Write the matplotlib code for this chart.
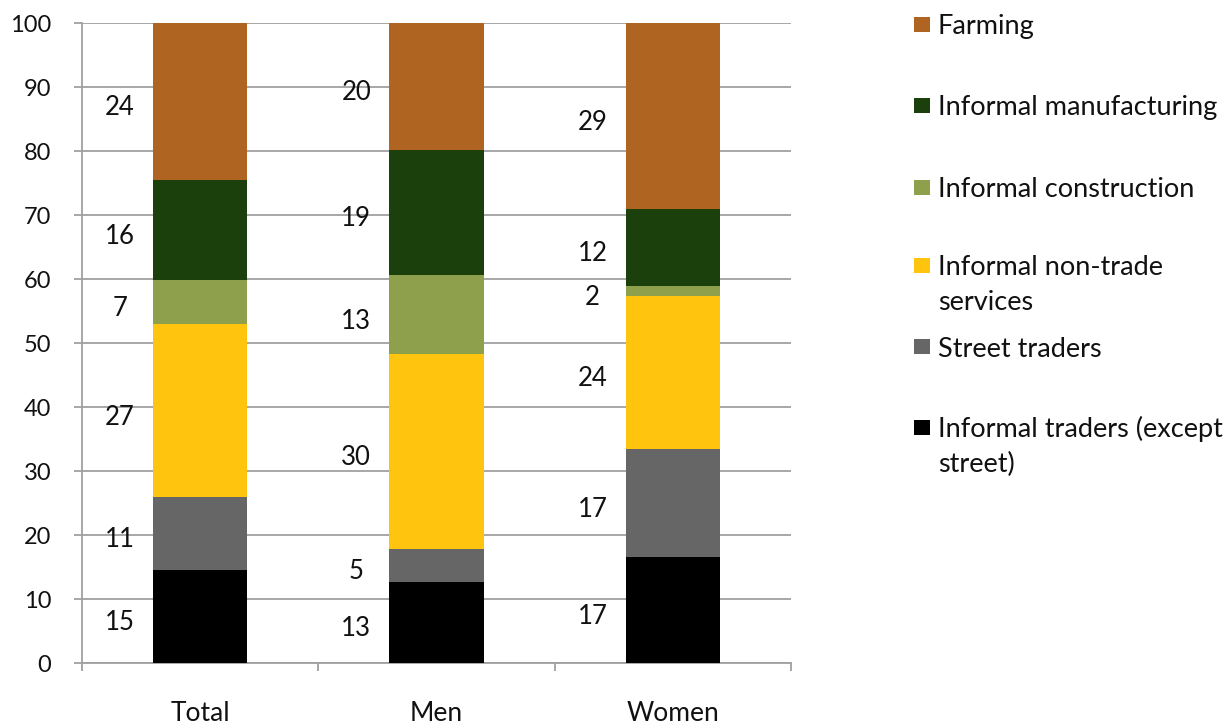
import matplotlib.pyplot as plt
from matplotlib.patches import Rectangle
from matplotlib.transforms import offset_copy

plt.rcParams['font.family'] = ['Lato', 'DejaVu Sans']

groups = ['Total', 'Men', 'Women']

# stacked from the bottom up
series = [
	'Informal traders (except\nstreet)',
	'Street traders',
	'Informal non-trade\nservices',
	'Informal construction',
	'Informal manufacturing',
	'Farming',
]
colors = ['#000000', '#666666', '#FFC40D', '#8EA04C', '#1B400B', '#B06422']

# segment heights
traders = [14.6, 12.7, 16.5]
street = [11.4, 5.1, 17.0]
nontrade = [26.9, 30.5, 23.8]
construction = [6.9, 12.3, 1.6]
manufacturing = [15.7, 19.6, 12.1]
farming = [24.5, 19.8, 29.0]

# printed labels
traders_lbl = [15, 13, 17]
street_lbl = [11, 5, 17]
nontrade_lbl = [27, 30, 24]
construction_lbl = [7, 13, 2]
manufacturing_lbl = [16, 19, 12]
farming_lbl = [24, 20, 29]

values = [traders, street, nontrade, construction, manufacturing, farming]
labels = [traders_lbl, street_lbl, nontrade_lbl, construction_lbl, manufacturing_lbl, farming_lbl]

fig = plt.figure(figsize=(12.32, 7.24), dpi=100)
ax = fig.add_axes([82 / 1232, 1 - 663 / 724, (791 - 82) / 1232, (663 - 23) / 724])

# labels sit a little below the segment middle, like Excel does
lbl_trans = offset_copy(ax.transData, fig=fig, y=-14 * 0.72, units='points')

x = range(len(groups))
bottom = [0, 0, 0]
for vals, lbls, col in zip(values, labels, colors):
	ax.bar(x, vals, width=0.4, bottom=bottom, color=col, zorder=3)
	for i in x:
		ax.text(i - 0.34, bottom[i] + vals[i] / 2, str(lbls[i]), ha='center', va='baseline',
				fontsize=18.5, color='#111111', transform=lbl_trans)
	bottom = [b + v for b, v in zip(bottom, vals)]

ax.set_xlim(-0.5, 2.5)
ax.set_ylim(0, 100)
ax.set_yticks(range(0, 101, 10))
ax.grid(axis='y', color='#a0a0a0', linewidth=1.3, zorder=0)
ax.set_xticks(list(x))
ax.set_xticklabels(groups)
ax.set_xticks([-0.5, 0.5, 1.5, 2.5], minor=True)
ax.tick_params(axis='x', which='major', length=0, pad=27.5, labelsize=19, labelcolor='#111111')
ax.tick_params(axis='x', which='minor', length=6, width=1.3, color='#a0a0a0')
ax.tick_params(axis='y', length=6, width=1.3, color='#a0a0a0', pad=16, labelsize=17, labelcolor='#111111')
for s in ['top', 'right']:
	ax.spines[s].set_visible(False)
for s in ['left', 'bottom']:
	ax.spines[s].set_color('#a0a0a0')
	ax.spines[s].set_linewidth(1.3)

# legend drawn by hand, Excel style (top entry first); baselines in pixels
leg_base = [34, 115, 197, 275, 357, 437]
line_gap = 35
for k, yb in enumerate(leg_base):
	idx = len(series) - 1 - k
	fig.patches.append(Rectangle((914 / 1232, 1 - (yb - 2.5) / 724), 16 / 1232, 15 / 724,
								 transform=fig.transFigure, facecolor=colors[idx], edgecolor='none'))
	for j, line in enumerate(series[idx].split('\n')):
		fig.text(938 / 1232, 1 - (yb + j * line_gap) / 724, line, ha='left', va='baseline',
				 fontsize=19.5, color='#111111')

fig.savefig('out.png', dpi=100)
